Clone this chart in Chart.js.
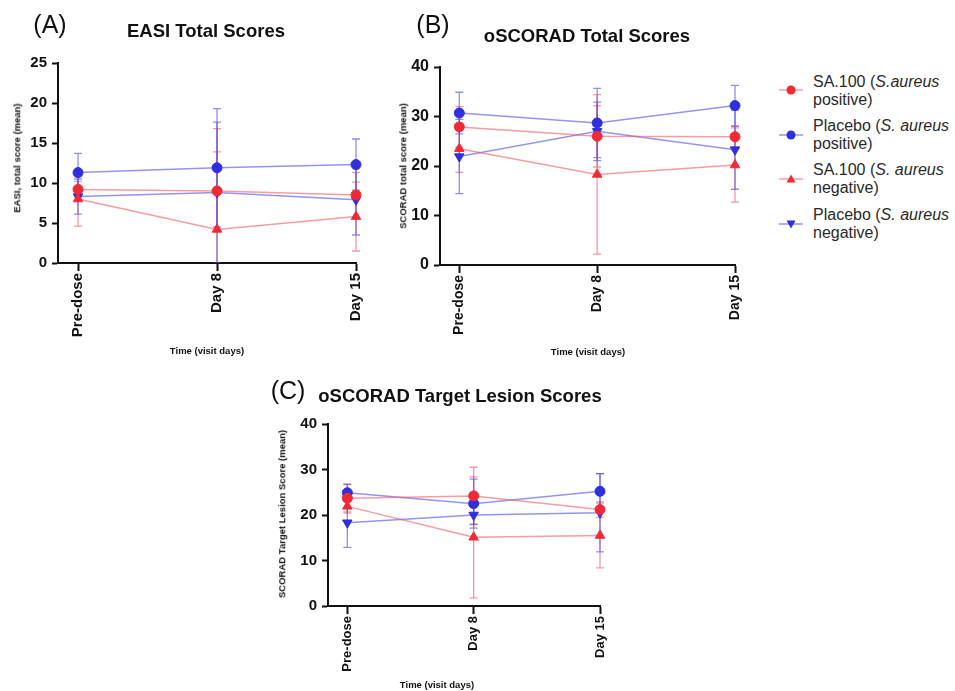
<!DOCTYPE html>
<html><head><meta charset="utf-8">
<script src="https://cdn.jsdelivr.net/npm/chart.js@4.4.0/dist/chart.umd.min.js"></script>
<style>
html,body{margin:0;padding:0;background:#fff;width:955px;height:691px;overflow:hidden;position:relative;font-family:'Liberation Sans',Arial,sans-serif;}
canvas{position:absolute;}
.t{position:absolute;white-space:nowrap;transform:translate(-50%,-50%);line-height:1;color:#111;}
.r{transform:translate(-50%,-50%) rotate(-90deg);}
.pl{font-size:25px;font-weight:normal;}
.ti{font-size:18.5px;font-weight:bold;}
.ax{font-size:9.5px;font-weight:bold;}
.lg{position:absolute;left:813px;font-size:16px;line-height:18px;color:#2a2a2a;white-space:nowrap;}
.lm{position:absolute;left:778px;width:26px;height:14px;}
</style>
</head><body>
<canvas id="cA" width="380" height="350" style="left:0;top:0"></canvas>
<canvas id="cB" width="377" height="352" style="left:382px;top:0"></canvas>
<canvas id="cC" width="354" height="306" style="left:270px;top:380px"></canvas>

<div class="t pl" style="left:50px;top:24px">(A)</div>
<div class="t ti" style="left:206px;top:31px">EASI Total Scores</div>
<div class="t pl" style="left:433px;top:24px">(B)</div>
<div class="t ti" style="left:587px;top:36px">oSCORAD Total Scores</div>
<div class="t pl" style="left:288px;top:390px">(C)</div>
<div class="t ti" style="left:460px;top:396px">oSCORAD Target Lesion Scores</div>

<div class="t r ax" style="left:17px;top:158px">EASI, total score (mean)</div>
<div class="t r ax" style="left:403px;top:166px">SCORAD total score (mean)</div>
<div class="t r ax" style="left:282px;top:514px">SCORAD Target Lesion Score (mean)</div>
<div class="t ax" style="left:207px;top:351px">Time (visit days)</div>
<div class="t ax" style="left:588px;top:352px">Time (visit days)</div>
<div class="t ax" style="left:437px;top:685px">Time (visit days)</div>

<svg class="lm" style="top:83px" viewBox="0 0 26 14"><line x1="1" y1="7" x2="25" y2="7" stroke="rgba(240,90,100,0.6)" stroke-width="1.5"/><circle cx="13" cy="7" r="4.5" fill="#f02a35"/></svg>
<div class="lg" style="top:73px">SA.100 (<i>S.aureus</i><br>positive)</div>
<svg class="lm" style="top:128px" viewBox="0 0 26 14"><line x1="1" y1="7" x2="25" y2="7" stroke="rgba(90,90,235,0.65)" stroke-width="1.5"/><circle cx="13" cy="7" r="4.5" fill="#2f2fe0"/></svg>
<div class="lg" style="top:117px">Placebo (<i>S. aureus</i><br>positive)</div>
<svg class="lm" style="top:172px" viewBox="0 0 26 14"><line x1="1" y1="7" x2="25" y2="7" stroke="rgba(240,90,100,0.6)" stroke-width="1.5"/><polygon points="13,2.5 17.5,10.5 8.5,10.5" fill="#f02a35"/></svg>
<div class="lg" style="top:161px">SA.100 (<i>S. aureus</i><br>negative)</div>
<svg class="lm" style="top:217px" viewBox="0 0 26 14"><line x1="1" y1="7" x2="25" y2="7" stroke="rgba(90,90,235,0.65)" stroke-width="1.5"/><polygon points="8.5,3.5 17.5,3.5 13,11.5" fill="#2f2fe0"/></svg>
<div class="lg" style="top:206px">Placebo (<i>S. aureus</i><br>negative)</div>

<script>
// ---------- data ----------
const categories = ['Pre-dose', 'Day 8', 'Day 15'];
const seriesLabels = ['SA.100 (S.aureus positive)', 'Placebo (S. aureus positive)', 'SA.100 (S. aureus negative)', 'Placebo (S. aureus negative)'];

// (A) EASI total scores: means and error (SD)
const easiSA100Pos    = [9.2, 9.0, 8.5];
const easiPlaceboPos  = [11.3, 11.9, 12.3];
const easiSA100Neg    = [8.0, 4.2, 5.8];
const easiPlaceboNeg  = [8.3, 8.8, 7.9];
const easiSA100PosErr   = [1.0, 4.9, 2.8];
const easiPlaceboPosErr = [2.4, 7.4, 3.2];
const easiSA100NegErr   = [3.4, 12.6, 4.3];
const easiPlaceboNegErr = [2.2, 8.8, 4.4];

// (B) oSCORAD total scores
const scoradSA100Pos    = [27.9, 26.0, 25.9];
const scoradPlaceboPos  = [30.7, 28.7, 32.2];
const scoradSA100Neg    = [23.5, 18.3, 20.2];
const scoradPlaceboNeg  = [21.9, 27.0, 23.3];
const scoradSA100PosErr   = [4.1, 6.2, 2.1];
const scoradPlaceboPosErr = [4.2, 7.0, 4.1];
const scoradSA100NegErr   = [4.8, 16.1, 7.5];
const scoradPlaceboNegErr = [7.5, 5.9, 8.0];

// (C) oSCORAD target lesion scores
const lesionSA100Pos    = [23.7, 24.2, 21.2];
const lesionPlaceboPos  = [24.9, 22.5, 25.2];
const lesionSA100Neg    = [21.9, 15.1, 15.5];
const lesionPlaceboNeg  = [18.3, 20.0, 20.5];
const lesionSA100PosErr   = [3.0, 6.3, 1.7];
const lesionPlaceboPosErr = [1.9, 5.4, 3.9];
const lesionSA100NegErr   = [1.5, 13.3, 7.1];
const lesionPlaceboNegErr = [5.4, 2.0, 8.6];

// ---------- styles ----------
const seriesStyles = [
  {point: 'circle',   rot: 0,   color: '#f02a35', line: 'rgba(240,90,100,0.6)', err: 'rgba(235,70,90,0.55)', r: 5},
  {point: 'circle',   rot: 0,   color: '#2f2fe0', line: 'rgba(90,90,235,0.65)', err: 'rgba(70,70,225,0.6)', r: 5},
  {point: 'triangle', rot: 0,   color: '#f02a35', line: 'rgba(240,90,100,0.6)', err: 'rgba(235,70,90,0.55)', r: 5.5},
  {point: 'triangle', rot: 180, color: '#2f2fe0', line: 'rgba(90,90,235,0.65)', err: 'rgba(70,70,225,0.6)', r: 5.5}
];

const errorBarPlugin = {
  id: 'errorBars',
  beforeDatasetsDraw(chart) {
    const {ctx, chartArea, scales: {x, y}} = chart;
    ctx.save();
    ctx.beginPath();
    ctx.rect(chartArea.left, chartArea.top - 30, chartArea.width + 30, chartArea.height + 30);
    ctx.clip();
    chart.data.datasets.forEach((ds, i) => {
      if (!ds.errors) return;
      ctx.strokeStyle = ds.errorColor;
      ctx.lineWidth = 1.3;
      ds.data.forEach((pt, j) => {
        const e = ds.errors[j];
        const px = x.getPixelForValue(pt.x);
        const yt = y.getPixelForValue(pt.y + e);
        const yb = y.getPixelForValue(pt.y - e);
        ctx.beginPath();
        ctx.moveTo(px, yt); ctx.lineTo(px, yb);
        ctx.moveTo(px - 4, yt); ctx.lineTo(px + 4, yt);
        ctx.moveTo(px - 4, yb); ctx.lineTo(px + 4, yb);
        ctx.stroke();
      });
    });
    ctx.restore();
  }
};

function buildChart(id, vals, errs, cfg) {
  const datasets = vals.map((v, i) => ({
    label: seriesLabels[i],
    data: v.map((yv, j) => ({x: j, y: yv})),
    errors: errs[i],
    errorColor: seriesStyles[i].err,
    borderColor: seriesStyles[i].line,
    borderWidth: 1.5,
    pointStyle: seriesStyles[i].point,
    pointRotation: seriesStyles[i].rot,
    pointRadius: seriesStyles[i].r,
    pointBackgroundColor: seriesStyles[i].color,
    pointBorderColor: seriesStyles[i].color,
    pointBorderWidth: 1,
    tension: 0,
    fill: false,
    clip: false
  }));
  return new Chart(document.getElementById(id), {
    type: 'line',
    data: {datasets},
    options: {
      responsive: false, animation: false, devicePixelRatio: 1,
      layout: {padding: {left: 0, top: cfg.top, right: 24, bottom: cfg.bottom}},
      plugins: {legend: {display: false}, tooltip: {enabled: false}},
      scales: {
        x: {
          type: 'linear', min: cfg.xMin, max: categories.length - 1,
          afterBuildTicks: s => { s.ticks = categories.map((c, i) => ({value: i})); },
          afterFit: s => { s.height = 80; },
          ticks: {callback: v => categories[v], minRotation: 90, maxRotation: 90, autoSkip: false, padding: 2,
                  color: '#111', font: {family: 'Liberation Sans', weight: 'bold', size: cfg.xFont}},
          grid: {drawOnChartArea: false, drawTicks: true, tickLength: 8, tickWidth: 2, tickColor: '#111'},
          border: {display: true, color: '#111', width: 2}
        },
        y: {
          min: 0, max: cfg.yMax,
          afterFit: s => { s.width = 58; },
          ticks: {stepSize: cfg.yStep, padding: 5, color: '#111', font: {family: 'Liberation Sans', weight: 'bold', size: cfg.yFont}},
          grid: {drawOnChartArea: false, drawTicks: true, tickLength: 6, tickWidth: 2, tickColor: '#111'},
          border: {display: true, color: '#111', width: 2}
        }
      }
    },
    plugins: [errorBarPlugin]
  });
}

buildChart('cA',
  [easiSA100Pos, easiPlaceboPos, easiSA100Neg, easiPlaceboNeg],
  [easiSA100PosErr, easiPlaceboPosErr, easiSA100NegErr, easiPlaceboNegErr],
  {top: 63, bottom: 7, xMin: -0.144, yMax: 25, yStep: 5, xFont: 15, yFont: 15});
buildChart('cB',
  [scoradSA100Pos, scoradPlaceboPos, scoradSA100Neg, scoradPlaceboNeg],
  [scoradSA100PosErr, scoradPlaceboPosErr, scoradSA100NegErr, scoradPlaceboNegErr],
  {top: 67, bottom: 7, xMin: -0.14, yMax: 40, yStep: 10, xFont: 14, yFont: 16});
buildChart('cC',
  [lesionSA100Pos, lesionPlaceboPos, lesionSA100Neg, lesionPlaceboNeg],
  [lesionSA100PosErr, lesionPlaceboPosErr, lesionSA100NegErr, lesionPlaceboNegErr],
  {top: 44, bottom: 0, xMin: -0.153, yMax: 40, yStep: 10, xFont: 13, yFont: 15});
</script>
</body></html>
